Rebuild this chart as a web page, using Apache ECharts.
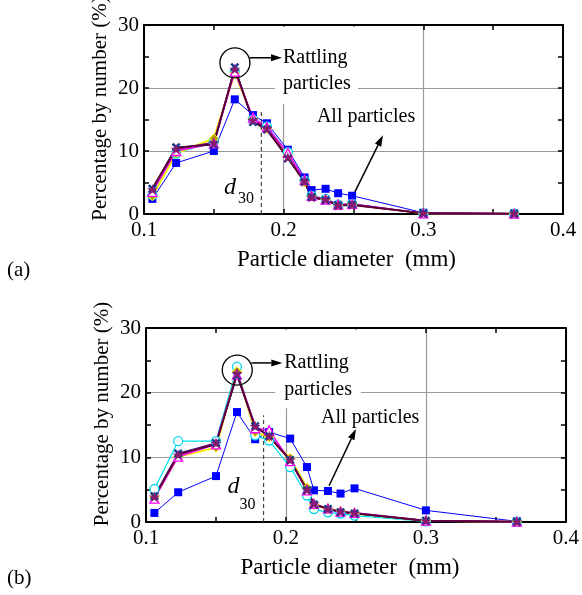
<!DOCTYPE html>
<html>
<head>
<meta charset="utf-8">
<script src="https://cdn.jsdelivr.net/npm/echarts@6/dist/echarts.min.js"></script>
<style>html,body{margin:0;padding:0;background:#fff}#c{width:582px;height:595px}</style>
</head>
<body>
<div id="c"></div>
<script>
// ---- data ----
const xs = [0.106, 0.123, 0.150, 0.165, 0.178, 0.188, 0.203, 0.215, 0.220, 0.230, 0.239, 0.249, 0.300, 0.365];
const xTicks = [0.1, 0.2, 0.3, 0.4];
const yTicks = [0, 10, 20, 30];
const d30 = 0.184;
const d30Top = 16.5;

const aBlue    = [2.4, 8.1, 10.0, 18.2, 15.7, 14.4, 10.2, 5.8, 3.8, 4.0, 3.3, 2.9, 0.2, 0.1];
const aCyan    = [3.0, 9.6, 11.5, 22.6, 15.0, 13.9, 9.8, 5.3, 2.9, 2.4, 1.5, 1.6, 0.1, 0.05];
const aYellow  = [2.8, 9.6, 12.0, 22.4, 15.1, 13.5, 9.4, 5.0, 2.8, 2.3, 1.4, 1.5, 0.1, 0.05];
const aMagenta = [3.5, 10.0, 11.2, 22.6, 15.3, 13.8, 9.7, 5.4, 2.9, 2.3, 1.5, 1.6, 0.1, 0.05];
const aNavy    = [4.0, 10.6, 11.0, 23.3, 14.6, 13.4, 8.8, 5.1, 2.7, 2.2, 1.4, 1.5, 0.1, 0.05];
const aPurple  = [3.9, 10.3, 11.3, 23.0, 14.9, 13.6, 9.0, 5.2, 2.7, 2.3, 1.4, 1.5, 0.1, 0.05];
const aDark    = [4.1, 10.5, 11.1, 23.2, 14.8, 13.3, 8.9, 5.0, 2.6, 2.2, 1.3, 1.4, 0.1, 0.05];

const bBlue    = [1.4, 4.6, 7.1, 17.0, 12.8, 13.9, 12.9, 8.5, 4.9, 4.8, 4.4, 5.2, 1.8, 0.1];
const bCyan    = [5.1, 12.5, 12.5, 24.0, 13.4, 12.6, 8.5, 4.1, 2.0, 1.5, 1.3, 1.0, 0.1, 0.05];
const bYellow  = [3.8, 10.1, 11.5, 23.3, 13.9, 13.1, 9.9, 5.3, 2.6, 2.0, 1.7, 1.3, 0.2, 0.05];
const bMagenta = [3.6, 10.1, 12.0, 22.8, 14.5, 14.2, 9.4, 4.9, 2.8, 2.1, 1.6, 1.4, 0.2, 0.05];
const bNavy    = [4.0, 10.6, 12.2, 22.6, 14.8, 13.3, 9.6, 4.9, 2.7, 2.0, 1.5, 1.3, 0.2, 0.05];
const bPurple  = [3.9, 10.4, 12.2, 23.0, 14.8, 13.3, 9.6, 5.0, 2.8, 2.0, 1.6, 1.4, 0.2, 0.05];
const bDark    = [3.8, 10.5, 12.0, 22.8, 14.7, 13.2, 9.5, 5.0, 2.8, 2.0, 1.6, 1.3, 0.2, 0.05];

const panelLabels = ['(a)', '(b)'];
const xTitle = 'Particle diameter  (mm)';
const yTitle = 'Percentage by number (%)';
const rattlingText = ['Rattling', 'particles'];
const allText = 'All particles';

// annotation anchors in data units
const ann = [
  {circle:[0.1651,24.0], arr1:[[0.1759,24.8],[0.1988,24.8]], ratt:[0.1995,24.8,20.6], box:[0.1938,0.2532,17.5],
   all:[0.2238,15.4], arr2:[[0.2510,3.5],[0.2711,12.5]], dpos:[0.1573,2.3], spos:[0.1673,1.2]},
  {circle:[0.1652,23.5], arr1:[[0.1753,24.6],[0.1974,24.6]], ratt:[0.1988,24.6,20.4], box:[0.1924,0.2535,17.6],
   all:[0.2251,16.1], arr2:[[0.2308,5.6],[0.2500,14.4]], dpos:[0.1583,3.6], spos:[0.1668,1.4]}
];

// ---- styling ----
const FONT = 'Liberation Serif';
const grids = [{left:144, top:25, width:419, height:189}, {left:146, top:328, width:422, height:194}];
const STAR = 'path://M50,0L61,35L98,35L68,57L79,91L50,70L21,91L32,57L2,35L39,35Z';
const XMARK = 'path://M0,2L2,0L5,3L8,0L10,2L7,5L10,8L8,10L5,7L2,10L0,8L3,5Z';

const pair = ys => xs.map((x, i) => [x, ys[i]]);

function xAxisPair(gi) {
  const common = {type:'value', gridIndex:gi, min:0.1, max:0.4, interval:0.1,
    axisLine:{show:true, onZero:false, lineStyle:{color:'#000', width:2}},
    axisTick:{show:true, inside:true, length:5, lineStyle:{color:'#000', width:1.5}},
    minorTick:{show:true, splitNumber:2, length:5, lineStyle:{color:'#000', width:1.5}}};
  return [
    Object.assign({}, common, {position:'bottom',
      axisLabel:{show:true, color:'#000', fontFamily:FONT, fontSize:21, margin:6, formatter:v => v.toFixed(1)},
      splitLine:{show:true, lineStyle:{color:'#9a9a9a', width:1.2}}}),
    Object.assign({}, common, {position:'top', axisLabel:{show:false}, splitLine:{show:false}})
  ];
}
function yAxisPair(gi) {
  const common = {type:'value', gridIndex:gi, min:0, max:30, interval:10,
    axisLine:{show:true, onZero:false, lineStyle:{color:'#000', width:2}},
    axisTick:{show:true, inside:true, length:5, lineStyle:{color:'#000', width:1.5}},
    minorTick:{show:true, splitNumber:2, length:5, lineStyle:{color:'#000', width:1.5}}};
  return [
    Object.assign({}, common, {position:'left',
      axisLabel:{show:true, color:'#000', fontFamily:FONT, fontSize:21, margin:5},
      splitLine:{show:true, lineStyle:{color:'#9a9a9a', width:1.2}}}),
    Object.assign({}, common, {position:'right', axisLabel:{show:false}, splitLine:{show:false}})
  ];
}

function panelSeries(gi, blue, cyan, yellow, magenta, navy, purple, dark) {
  const xi = gi * 2, yi = gi * 2;
  const base = {type:'line', xAxisIndex:xi, yAxisIndex:yi, animation:false, z:3};
  return [
    Object.assign({}, base, {data:pair(blue), symbol:'rect', symbolSize:8,
      lineStyle:{color:'#0000ff', width:1}, itemStyle:{color:'#0000ff'}}),
    Object.assign({}, base, {data:pair(cyan), symbol:'circle', symbolSize:9,
      lineStyle:{color:'#00e0f0', width:1.2}, itemStyle:{color:'#ffffff', borderColor:'#00d8f0', borderWidth:1.3}}),
    Object.assign({}, base, {data:pair(yellow), symbol:'diamond', symbolSize:9,
      lineStyle:{color:'#f2f200', width:2}, itemStyle:{color:'#b0a000', borderColor:'#f2f200', borderWidth:1}}),
    Object.assign({}, base, {data:pair(magenta), symbol:'triangle', symbolSize:9,
      lineStyle:{color:'#ff00ff', width:1.5}, itemStyle:{color:'#ffffff', borderColor:'#ff00ff', borderWidth:1.3}}),
    Object.assign({}, base, {data:pair(navy), symbol:XMARK, symbolSize:9,
      lineStyle:{color:'#10207a', width:1.5}, itemStyle:{color:'#1a3a8a'}}),
    Object.assign({}, base, {data:pair(purple), symbol:STAR, symbolSize:11,
      lineStyle:{color:'#800080', width:2}, itemStyle:{color:'#8a1a70'}}),
    Object.assign({}, base, {data:pair(dark), symbol:'none',
      lineStyle:{color:'#5a0030', width:1.5}}),
    Object.assign({}, base, {data:[[d30, 0], [d30, d30Top]], symbol:'none', z:2,
      lineStyle:{color:'#444', width:1.2, type:[4, 3]}})
  ];
}

const chart = echarts.init(document.getElementById('c'), null, {renderer:'canvas'});
const xAxes = [].concat(xAxisPair(0), xAxisPair(1));
const yAxes = [].concat(yAxisPair(0), yAxisPair(1));
chart.setOption({
  animation:false,
  backgroundColor:'#fff',
  grid:grids.map(g => Object.assign({containLabel:false}, g)),
  xAxis:xAxes,
  yAxis:yAxes,
  series:[].concat(
    panelSeries(0, aBlue, aCyan, aYellow, aMagenta, aNavy, aPurple, aDark),
    panelSeries(1, bBlue, bCyan, bYellow, bMagenta, bNavy, bPurple, bDark))
});

// ---- annotations ----
function arrowEls(p0, p1, head) {
  const dx = p1[0] - p0[0], dy = p1[1] - p0[1];
  const L = Math.sqrt(dx*dx + dy*dy), ux = dx / L, uy = dy / L;
  const hl = head || 10, hw = 3.5;
  const bx = p1[0] - ux * hl, by = p1[1] - uy * hl;
  return [
    {type:'line', z:10, shape:{x1:p0[0], y1:p0[1], x2:bx, y2:by}, style:{stroke:'#000', lineWidth:1.5}},
    {type:'polygon', z:10, shape:{points:[[p1[0], p1[1]], [bx - uy*hw, by + ux*hw], [bx + uy*hw, by - ux*hw]]}, style:{fill:'#000'}}
  ];
}
const els = [];
grids.forEach((g, gi) => {
  const P = v => chart.convertToPixel({gridIndex:gi}, v);
  const a = ann[gi];
  const b0 = P([a.box[0], 30]), b1 = P([a.box[1], a.box[2]]);
  els.push({type:'rect', z:1, shape:{x:b0[0], y:b0[1] + 1.5, width:b1[0] - b0[0], height:b1[1] - b0[1] - 1.5}, style:{fill:'#fff'}});
  const c = P(a.circle);
  els.push({type:'circle', z:10, shape:{cx:c[0], cy:c[1], r:15}, style:{fill:'none', stroke:'#000', lineWidth:1.3}});
  els.push.apply(els, arrowEls(P(a.arr1[0]), P(a.arr1[1]), 11));
  const r1 = P([a.ratt[0], a.ratt[1]]), r2 = P([a.ratt[0], a.ratt[2]]);
  els.push({type:'text', z:10, x:r1[0], y:r1[1], style:{text:rattlingText[0], font:'20px "' + FONT + '"', fill:'#000', verticalAlign:'middle', align:'left'}});
  els.push({type:'text', z:10, x:r2[0], y:r2[1], style:{text:rattlingText[1], font:'20px "' + FONT + '"', fill:'#000', verticalAlign:'middle', align:'left'}});
  const al = P(a.all);
  els.push({type:'text', z:10, x:al[0], y:al[1], style:{text:allText, font:'20px "' + FONT + '"', fill:'#000', verticalAlign:'middle', align:'left'}});
  els.push.apply(els, arrowEls(P(a.arr2[0]), P(a.arr2[1]), 11));
  const dp = P(a.dpos), sp = P(a.spos);
  els.push({type:'text', z:10, x:dp[0], y:dp[1], style:{text:'d', font:'italic 24px "' + FONT + '"', fill:'#000', verticalAlign:'bottom', align:'left'}});
  els.push({type:'text', z:10, x:sp[0], y:sp[1], style:{text:'30', font:'16px "' + FONT + '"', fill:'#000', verticalAlign:'bottom', align:'left'}});
  els.push({type:'text', z:10, x:g.left - 44, y:g.top + g.height / 2 - 11, rotation:Math.PI / 2,
    style:{text:yTitle, font:'21px "' + FONT + '"', fill:'#000', align:'center', verticalAlign:'middle'}});
  els.push({type:'text', z:10, x:g.left + g.width / 2 - 7, y:g.top + g.height + 46,
    style:{text:xTitle, font:'23px "' + FONT + '"', fill:'#000', align:'center', verticalAlign:'middle'}});
  els.push({type:'text', z:10, x:7, y:g.top + g.height + 56,
    style:{text:panelLabels[gi], font:'21px "' + FONT + '"', fill:'#000', align:'left', verticalAlign:'middle'}});
});
chart.setOption({graphic:{elements:els}});
</script>
</body>
</html>
